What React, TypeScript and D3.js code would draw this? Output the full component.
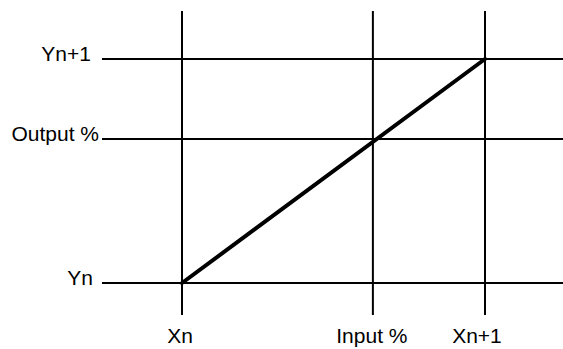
import React from 'react';
import * as d3 from 'd3';

// interpolation diagram: values are in normalised units (Xn = 0, Xn+1 = 1)
const xLabels = ['Xn', 'Input %', 'Xn+1'];
const xValues = [0, 0.63, 1];
const yLabels = ['Yn', 'Output %', 'Yn+1'];
const yValues = [0, 0.643, 1];
const lineX = [0, 1];
const lineY = [0, 1];

const width = 563;
const height = 349;
const font = '"Liberation Sans", Arial, Helvetica, sans-serif';

const App = () => {
  const x = d3.scaleLinear().domain([0, 1]).range([182, 485]);
  const y = d3.scaleLinear().domain([0, 1]).range([283, 59]);

  const gridTop = 11;
  const gridBottom = 315;
  const gridLeft = 102;
  const gridRight = width;

  // tweak label placement a bit to follow the original drawing
  const xLabelDx = [-2, -1, -8];
  const yLabelEnd = [93, 99, 91];

  const line = d3.line<number>()
    .x((d, i) => x(lineX[i]))
    .y((d, i) => y(lineY[i]));

  return (
    <svg
      width={width}
      height={height}
      style={{ position: 'absolute', left: 0, top: 0, background: '#fff' }}
    >
      {xValues.map((v, i) => (
        <line key={'v' + i} x1={x(v)} x2={x(v)} y1={gridTop} y2={gridBottom}
          stroke="#000" strokeWidth={2} />
      ))}
      {yValues.map((v, i) => (
        <line key={'h' + i} x1={gridLeft} x2={gridRight} y1={y(v)} y2={y(v)}
          stroke="#000" strokeWidth={2} />
      ))}

      <path d={line(lineX) || ''} fill="none" stroke="#000" strokeWidth={4} strokeLinecap="round" />

      {xLabels.map((t, i) => (
        <text key={'xl' + i} x={x(xValues[i]) + xLabelDx[i]} y={343}
          textAnchor="middle" fontFamily={font} fontSize={21} fill="#000">{t}</text>
      ))}
      {yLabels.map((t, i) => (
        <text key={'yl' + i} x={yLabelEnd[i]} y={y(yValues[i]) + 2}
          textAnchor="end" fontFamily={font} fontSize={21} fill="#000">{t}</text>
      ))}
    </svg>
  );
};

export default App;
